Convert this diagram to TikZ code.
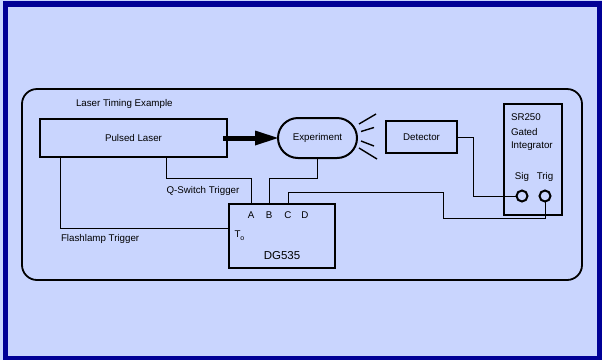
\documentclass[tikz,border=0pt]{standalone}
\usepackage{fontspec}
\setmainfont{Liberation Sans}
\usetikzlibrary{calc}
\definecolor{bglight}{RGB}{201,213,254}
\definecolor{framedark}{RGB}{0,0,150}
\begin{document}
\begin{tikzpicture}[x=1pt,y=-1pt,
  lbl/.style={font=\fontsize{9.75}{11}\selectfont, inner sep=0pt, outer sep=0pt},
  box/.style={draw, line width=2pt, inner sep=0pt, outer sep=0pt, font=\fontsize{9.75}{11}\selectfont},
  wire/.style={line width=1pt},
  ray/.style={line width=1.4pt},
  jack/.style={draw, circle, line width=2pt, minimum size=11pt, inner sep=0pt, outer sep=0pt}]
\useasboundingbox (0,0) rectangle (602,360);
\fill[bglight] (0,0) rectangle (602,360);
\fill[framedark] (3,1) rectangle (602,360);
\fill[bglight] (8,7) rectangle (597,356);
% enclosing frame
\draw[line width=1.8pt, rounded corners=15pt] (22,89) rectangle (582,280);
\node[lbl, anchor=west] (title) at (76,104) {Laser Timing Example};
% main boxes
\node[box, minimum width=187pt, minimum height=38pt] (laser) at (133.5,138) {Pulsed Laser};
\node[box, minimum width=79pt, minimum height=40pt, rounded corners=20pt] (exp) at (317.5,138) {Experiment};
\node[box, minimum width=71pt, minimum height=32pt] (det) at (421.5,137) {Detector};
\node[box, minimum width=58pt, minimum height=111pt] (sr) at (533,159.5) {};
\node[box, minimum width=106pt, minimum height=64pt] (dg) at (282,236) {};
% SR250 texts
\node[lbl, anchor=west] (srA) at (511,117) {SR250};
\node[lbl, anchor=west] (srB) at (511,132) {Gated};
\node[lbl, anchor=west] (srC) at (511,146) {Integrator};
\node[lbl] (sigl) at (522,177) {Sig};
\node[lbl] (trigl) at (545,177) {Trig};
\node[jack] (sig) at (522,196) {};
\node[jack] (trig) at (545,196) {};
% DG535 texts
\node[lbl] (lA) at (251,215) {A};
\node[lbl] (lB) at (269,215) {B};
\node[lbl] (lC) at (288,215) {C};
\node[lbl] (lD) at (305,215) {D};
\node[lbl, anchor=west] (lT) at (234.5,236) {T\raisebox{-0.6ex}{\fontsize{7}{8}\selectfont o}};
\node[lbl, font=\fontsize{11.5}{13}\selectfont] (dgname) at (282,256) {DG535};
% beam arrow
\draw[line width=5pt] ([xshift=-4pt]laser.east) -- ($(exp.west)+(-22,0)$);
\fill ($(exp.west)+(-23,-7.5)$) -- (exp.west) -- ($(exp.west)+(-23,7.5)$) -- cycle;
% scattered light rays
\draw[ray] (359,124) -- (376,114);
\draw[ray] (361,131.5) -- (374,127.5);
\draw[ray] (361,141) -- (374,146);
\draw[ray] (359,148) -- (377,159);
% connectors
\draw[wire] ([xshift=32.5pt]laser.south) -- ++(0,21) -| (dg.north -| lA);
\draw[wire] (exp.south) -- ++(0,20) -| (dg.north -| lB);
\draw[wire] ([xshift=-73.5pt]laser.south) |- ([yshift=8pt]dg.west);
\draw[wire] (det.east) -- ++(16,0) |- (sig.west);
\draw[wire] (dg.north -| lC) -- ++(0,-12) -| ++(155,26) -| (trig.south);
% connector labels
\node[lbl] (qsl) at (203,191) {Q-Switch Trigger};
\node[lbl, anchor=west] (fll) at (61,239) {Flashlamp Trigger};
\end{tikzpicture}
\end{document}
